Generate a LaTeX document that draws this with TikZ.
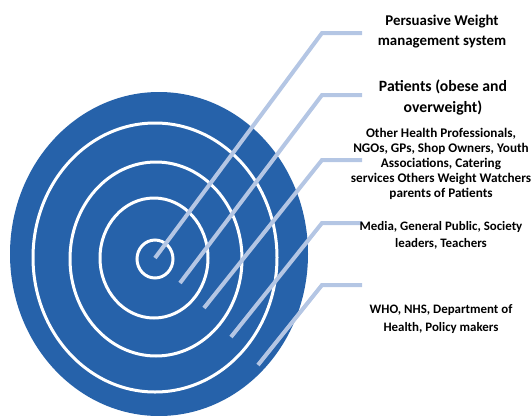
\documentclass[tikz,border=0pt]{standalone}
\usepackage{fontspec}
\setmainfont{Carlito}
\definecolor{discblue}{RGB}{38,98,170}
\definecolor{leader}{RGB}{180,198,228}
\tikzset{
  ring/.style={draw=white, line width=3pt},
  leaderline/.style={draw=leader, line width=4pt, line join=miter},
  lbl/.style={align=center, font=\bfseries, text=black, inner sep=0pt},
}
\begin{document}
\begin{tikzpicture}[x=1pt,y=-1pt]
\useasboundingbox (0,0) rectangle (532,415);
\fill[discblue] (159,254) ellipse [x radius=149, y radius=162];
\draw[ring] (155,259) ellipse [x radius=18, y radius=19];
\draw[ring] (154,258) ellipse [x radius=54, y radius=60];
\draw[ring] (156,259) ellipse [x radius=86, y radius=97];
\draw[ring] (155,257.5) ellipse [x radius=122, y radius=134.5];
% leader ends
\coordinate (e1) at (155,258);
\coordinate (e2) at (180,283);
\coordinate (e3) at (204,308);
\coordinate (e4) at (231,337);
\coordinate (e5) at (258,365);
\coordinate (c1) at (322,33);
\coordinate (c2) at (322,95);
\coordinate (c3) at (322,160);
\coordinate (c4) at (322,223);
\coordinate (c5) at (322,285);
\coordinate (h1) at (362,33);
\coordinate (h2) at (362,95);
\coordinate (h3) at (362,160);
\coordinate (h4) at (362,223);
\coordinate (h5) at (362,285);
\foreach \i in {1,...,5} {\draw[leaderline] (e\i) -- (c\i) -- (h\i);}
% labels
\node[lbl, font=\bfseries\fontsize{14.9}{20}\selectfont] (l1) at (442,32) {Persuasive Weight\\management system};
\node[lbl, font=\bfseries\fontsize{15.7}{21}\selectfont] (l2) at (443,97.5) {Patients (obese and\\overweight)};
\node[lbl, font=\bfseries\fontsize{13.2}{15}\selectfont] (l3) at (441,163.5) {Other Health Professionals,\\NGOs, GPs, Shop Owners, Youth\\Associations, Catering\\services Others Weight Watchers\\parents of Patients};
\node[lbl, font=\bfseries\fontsize{12.9}{17}\selectfont] (l4) at (441,235.5) {Media, General Public, Society\\leaders, Teachers};
\node[lbl, font=\bfseries\fontsize{12.9}{18}\selectfont] (l5) at (441,319) {WHO, NHS, Department of\\Health, Policy makers};
\end{tikzpicture}
\end{document}
